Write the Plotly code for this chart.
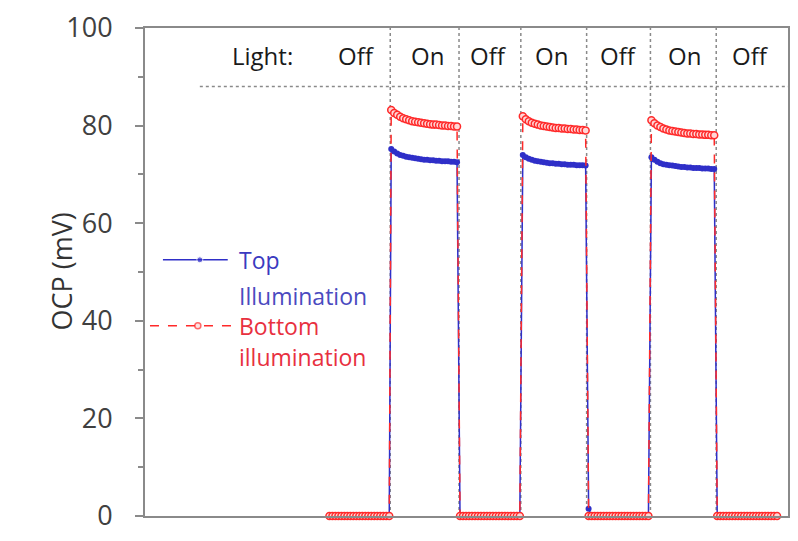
import plotly.graph_objects as go

# Sampling step (s) and segment start times
STEP = 3
seg_starts = [185, 247, 316, 379, 445, 508, 574]

# OCP values (mV) for each light-off / light-on segment
off1_top = [0.0] * 21
off1_bot = [0.0] * 21

on1_bot = [83.2, 82.6, 82.2, 81.8, 81.5, 81.3, 81.1, 80.9, 80.8, 80.7, 80.6, 80.5,
           80.4, 80.3, 80.2, 80.2, 80.1, 80.0, 80.0, 79.9, 79.9, 79.8, 79.8]
on1_top = [75.2, 74.7, 74.3, 74.0, 73.8, 73.6, 73.5, 73.4, 73.3, 73.2, 73.1, 73.0,
           73.0, 72.9, 72.9, 72.8, 72.8, 72.7, 72.7, 72.7, 72.6, 72.6, 72.5]

off2_top = [0.0] * 21
off2_bot = [0.0] * 21

on2_bot = [81.9, 81.3, 80.9, 80.6, 80.4, 80.2, 80.0, 79.9, 79.8, 79.7, 79.6,
           79.5, 79.5, 79.4, 79.4, 79.3, 79.3, 79.2, 79.2, 79.1, 79.1, 79.0]
on2_top = [74.0, 73.5, 73.2, 73.0, 72.8, 72.7, 72.6, 72.5, 72.4, 72.3, 72.3,
           72.2, 72.2, 72.1, 72.1, 72.0, 72.0, 72.0, 71.9, 71.9, 71.9, 71.8]

off3_top = [1.5] + [0.0] * 20
off3_bot = [0.0] * 21

on3_bot = [81.1, 80.5, 80.0, 79.7, 79.4, 79.2, 79.0, 78.9, 78.8, 78.7, 78.6,
           78.5, 78.4, 78.4, 78.3, 78.3, 78.2, 78.2, 78.1, 78.1, 78.0, 78.0]
on3_top = [73.5, 73.0, 72.6, 72.3, 72.1, 72.0, 71.9, 71.8, 71.7, 71.6, 71.5,
           71.5, 71.4, 71.4, 71.3, 71.3, 71.3, 71.2, 71.2, 71.2, 71.1, 71.1]

off4_top = [0.0] * 21
off4_bot = [0.0] * 21

top_segments = [off1_top, on1_top, off2_top, on2_top, off3_top, on3_top, off4_top]
bot_segments = [off1_bot, on1_bot, off2_bot, on2_bot, off3_bot, on3_bot, off4_bot]

# Light switching times and header labels
switch_times = [246, 315, 377, 443, 507, 573]
header_x = [118, 212, 283, 345, 408, 475, 541, 607]
header_text = ["Light:", "Off", "On", "Off", "On", "Off", "On", "Off"]

time = []
for start, seg in zip(seg_starts, top_segments):
    time += [start + STEP * i for i in range(len(seg))]
top = sum(top_segments, [])
bottom = sum(bot_segments, [])

BLUE = "#2f2fc8"
RED = "#ff2a2a"
GRAY = "#8a8a8a"
FONT = "Open Sans"

fig = go.Figure()

fig.add_trace(go.Scatter(
    x=time, y=top, mode="lines+markers", name="Top illumination",
    line=dict(color=BLUE, width=1.5),
    marker=dict(color=BLUE, size=6, symbol="circle"),
    cliponaxis=False, showlegend=False,
))
fig.add_trace(go.Scatter(
    x=time, y=bottom, mode="lines+markers", name="Bottom illumination",
    line=dict(color=RED, width=1.5, dash="dash"),
    marker=dict(color="#ffd6d6", size=7, symbol="circle",
                line=dict(color=RED, width=1.5)),
    cliponaxis=False, showlegend=False,
))

# Legend samples drawn inside the plot
fig.add_trace(go.Scatter(
    x=[18, 55, 83], y=[52.5, 52.5, 52.5], mode="lines+markers",
    line=dict(color=BLUE, width=1.5),
    marker=dict(color=BLUE, size=[0, 6, 0]),
    showlegend=False, hoverinfo="skip",
))
fig.add_trace(go.Scatter(
    x=[5, 53, 87], y=[39, 39, 39], mode="lines+markers",
    line=dict(color=RED, width=1.5, dash="dash"),
    marker=dict(color="#ffd6d6", size=[0, 6, 0], symbol="circle",
                line=dict(color=RED, width=1.5)),
    showlegend=False, hoverinfo="skip",
))

shapes = []
for t in switch_times:
    shapes.append(dict(type="line", xref="x", yref="y", x0=t, x1=t, y0=0, y1=100,
                       line=dict(color=GRAY, width=1.5, dash="dot"), layer="below"))
shapes.append(dict(type="line", xref="x", yref="y", x0=55, x1=645, y0=88, y1=88,
                   line=dict(color=GRAY, width=1.5, dash="dot"), layer="below"))

annotations = []
for x, txt in zip(header_x, header_text):
    annotations.append(dict(x=x, y=94.3, xref="x", yref="y", text=txt, showarrow=False,
                            font=dict(family=FONT, size=24, color="#1a1a1a")))

legend_labels = [
    ("Top", 52.5, "#3a3ac0"),
    ("Illumination", 45.0, "#4a4ac0"),
    ("Bottom", 39.0, "#e83040"),
    ("illumination", 32.5, "#e83040"),
]
for txt, y, col in legend_labels:
    annotations.append(dict(x=92, y=y, xref="x", yref="y", text=txt, showarrow=False,
                            xanchor="left", font=dict(family=FONT, size=23, color=col)))

annotations.append(dict(x=0, y=0.5, xref="paper", yref="paper", text="OCP (mV)",
                        showarrow=False, textangle=-90, xshift=-105,
                        font=dict(family=FONT, size=27, color="#333333")))

fig.update_layout(
    width=798, height=541,
    margin=dict(l=145, r=8, t=24, b=24),
    paper_bgcolor="white", plot_bgcolor="white",
    shapes=shapes, annotations=annotations,
    xaxis=dict(range=[0, 645], showgrid=False, zeroline=False, showticklabels=False,
               ticks="", showline=True, linecolor=GRAY, linewidth=2, mirror=True),
    yaxis=dict(range=[0, 100], dtick=20, showgrid=False, zeroline=False,
               ticks="outside", ticklen=8, tickcolor=GRAY, tickwidth=1.5,
               minor=dict(dtick=10, ticks="outside", ticklen=5, tickcolor=GRAY),
               showline=True, linecolor=GRAY, linewidth=2, mirror=True,
               ticklabelstandoff=17,
               tickfont=dict(family=FONT, size=27, color="#404040")),
)

fig.write_html("out.html")
